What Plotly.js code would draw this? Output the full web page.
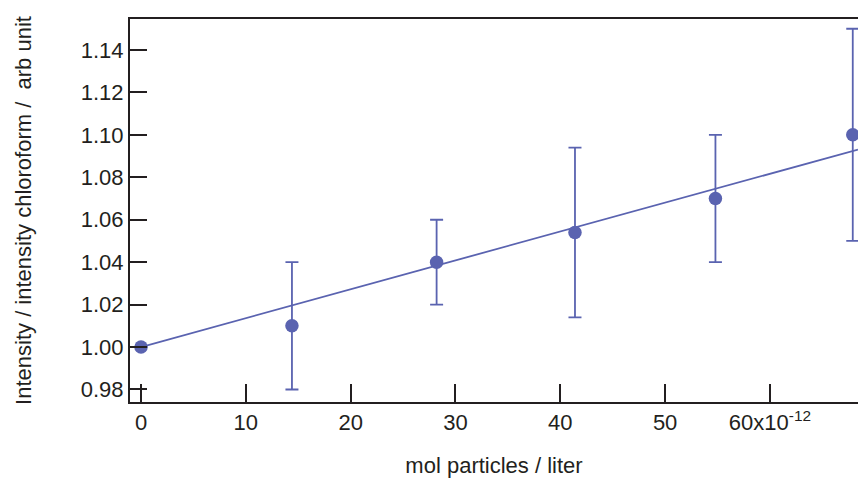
<!DOCTYPE html>
<html>
<head>
<meta charset="utf-8">
<script src="https://cdn.plot.ly/plotly-3.0.1.min.js"></script>
<style>html,body{margin:0;padding:0;background:#fff;}#chart{width:858px;height:483px;}</style>
</head>
<body>
<div id="chart"></div>
<script>
const concentration = [0, 14.4, 28.2, 41.4, 54.8, 67.9];
const intensityRatio = [1.000, 1.010, 1.040, 1.054, 1.070, 1.100];
const errorValues = [0, 0.030, 0.020, 0.040, 0.030, 0.050];
const fitX = [0, 68.4];
const fitY = [1.000, 1.0931];
const xTickVals = [0, 10, 20, 30, 40, 50, 60];
const xTickText = ['0', '10', '20', '30', '40', '50', '60x10<sup>-12</sup>'];
const yTickVals = [0.98, 1.00, 1.02, 1.04, 1.06, 1.08, 1.10, 1.12, 1.14];
const yTickText = ['0.98', '1.00', '1.02', '1.04', '1.06', '1.08', '1.10', '1.12', '1.14'];

const blue = '#5a63b0';
const ink = '#231f20';

const traces = [
  {
    x: fitX, y: fitY, type: 'scatter', mode: 'lines',
    line: {color: blue, width: 1.8}, hoverinfo: 'skip', showlegend: false
  },
  {
    x: concentration, y: intensityRatio, type: 'scatter', mode: 'markers',
    marker: {color: blue, size: 13.5},
    error_y: {type: 'data', array: errorValues, visible: true, color: blue, thickness: 1.8, width: 6.5},
    cliponaxis: false, showlegend: false
  }
];

const layout = {
  width: 858, height: 483,
  margin: {l: 130, r: 0, t: 19, b: 81},
  paper_bgcolor: '#fff', plot_bgcolor: '#fff',
  font: {family: 'Liberation Sans, Arial, sans-serif', size: 22, color: ink},
  showlegend: false,
  xaxis: {
    range: [-1.05, 68.4],
    showgrid: false, zeroline: false,
    showline: true, linecolor: ink, linewidth: 2, mirror: true,
    ticks: 'inside', ticklen: 18, tickwidth: 2, tickcolor: ink,
    tickmode: 'array', tickvals: xTickVals, ticktext: xTickText,
    tickfont: {size: 22, color: ink},
    title: {text: 'mol particles / liter', font: {size: 22, color: ink}, standoff: 23}
  },
  yaxis: {
    range: [0.9741, 1.1546],
    showgrid: false, zeroline: false,
    showline: true, linecolor: ink, linewidth: 2,
    ticks: 'inside', ticklen: 17, tickwidth: 2, tickcolor: ink,
    tickmode: 'array', tickvals: yTickVals, ticktext: yTickText,
    tickfont: {size: 22, color: ink},
    title: {text: 'Intensity / intensity chloroform /  arb unit', font: {size: 22, color: ink}, standoff: 43}
  }
};

Plotly.newPlot('chart', traces, layout, {displayModeBar: false, staticPlot: true});
</script>
</body>
</html>
